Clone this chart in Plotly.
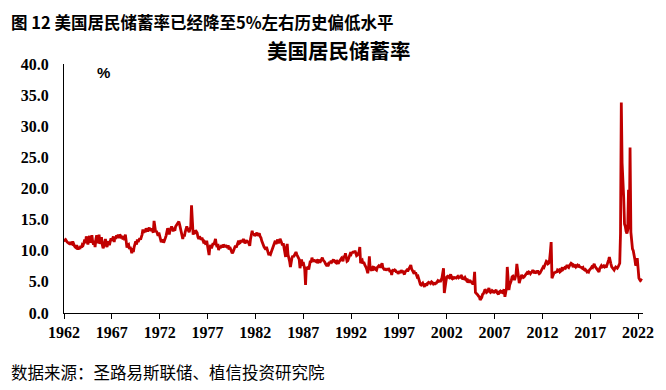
import pandas as pd
import plotly.graph_objects as go

# Monthly US personal saving rate (%)
rate_1962_1969 = [
    11.9, 11.7, 11.8, 11.5, 11.4, 11.3, 11.2, 11.4, 11.0, 11.2, 11.1, 11.5,
    11.0, 10.8, 10.6, 10.5, 10.9, 10.4, 10.2, 10.6, 10.3, 10.8, 10.5, 11.0,
    10.9, 11.3, 11.8, 11.2, 12.3, 11.9, 11.0, 11.6, 12.4, 11.3, 12.0, 12.5,
    11.4, 11.0, 11.6, 10.6, 11.8, 12.5, 11.8, 11.2, 12.6, 11.1, 11.7, 12.2,
    11.0, 10.4, 10.7, 11.3, 11.9, 11.0, 10.6, 11.2, 11.5, 10.9, 11.4, 12.0,
    11.6, 11.9, 12.3, 11.4, 12.2, 11.9, 12.5, 12.1, 12.6, 12.0, 12.6, 12.4,
    12.0, 12.4, 11.8, 12.3, 11.7, 12.6, 10.8, 10.5, 10.9, 11.0, 10.3, 10.6,
    10.2, 9.6, 10.4, 9.8, 10.6, 11.2, 11.5, 11.0, 11.8, 11.4, 11.9, 12.0,
]
rate_1970s = [
    11.8, 12.1, 12.6, 13.4, 12.9, 13.2, 13.0, 13.6, 13.3, 13.1, 13.5, 13.7,
    13.4, 13.2, 13.6, 13.3, 12.9, 14.8, 13.4, 13.0, 13.2, 12.6, 12.4, 12.9,
    12.2, 11.9, 11.4, 11.6, 11.8, 11.3, 11.9, 12.0, 12.4, 12.8, 13.6, 13.3,
    12.6, 13.3, 13.5, 13.9, 13.6, 13.1, 13.7, 13.2, 13.9, 14.1, 14.3, 14.5,
    14.7, 14.2, 13.5, 12.8, 12.2, 11.9, 12.6, 12.3, 13.0, 13.6, 13.9, 13.5,
    13.2, 13.0, 13.5, 13.8, 17.3, 14.0, 12.6, 13.1, 12.7, 13.3, 13.0, 12.9,
    12.2, 11.9, 12.3, 12.1, 11.8, 12.1, 11.6, 11.4, 11.5, 11.2, 11.0, 11.6,
    10.8, 10.1, 9.3, 10.6, 10.9, 10.4, 10.8, 11.2, 11.0, 11.4, 11.9, 11.0,
    10.6, 11.1, 10.1, 10.8, 10.4, 10.7, 10.9, 10.5, 11.0, 10.8, 10.6, 10.9,
    10.7, 10.5, 10.9, 10.2, 10.6, 10.3, 10.0, 9.6, 9.8, 10.1, 10.6, 10.8,
]
rate_1980s = [
    10.5, 10.9, 11.3, 11.6, 11.2, 11.3, 11.7, 11.4, 11.6, 11.9, 11.5, 11.2,
    11.4, 11.7, 11.3, 11.6, 11.1, 10.8, 11.9, 12.4, 13.2, 12.6, 12.8, 12.4,
    12.5, 12.7, 12.9, 12.4, 12.6, 12.8, 12.3, 12.1, 11.6, 11.2, 10.9, 10.6,
    10.4, 10.2, 10.6, 10.0, 9.6, 9.3, 9.5, 9.4, 9.8, 10.2, 10.6, 10.9,
    11.3, 11.6, 11.1, 11.4, 11.8, 11.2, 11.5, 11.9, 11.6, 11.3, 10.9, 11.2,
    10.2, 9.6, 9.0, 10.4, 11.1, 9.4, 9.0, 8.3, 7.4, 8.4, 8.9, 9.2,
    9.0, 9.3, 9.6, 9.8, 9.4, 9.1, 8.8, 8.6, 7.2, 8.4, 8.6, 7.6,
    8.2, 7.6, 7.0, 4.5, 7.4, 7.2, 7.3, 7.0, 7.6, 8.4, 8.1, 8.9,
    8.4, 8.6, 8.2, 8.5, 8.3, 8.4, 8.0, 8.2, 8.6, 8.1, 8.4, 8.6,
    8.9, 8.5, 8.4, 8.2, 7.9, 7.7, 7.8, 7.5, 7.8, 8.2, 8.0, 8.4,
]
rate_1990s = [
    8.2, 8.4, 8.6, 8.3, 8.2, 8.1, 8.5, 8.0, 7.9, 8.2, 8.4, 8.5,
    8.8, 8.6, 8.3, 9.2, 8.9, 9.6, 8.6, 8.3, 8.4, 8.8, 9.1, 9.5,
    9.4, 9.8, 9.6, 9.9, 9.7, 10.0, 9.6, 9.2, 9.3, 9.5, 9.8, 10.6,
    8.0, 8.4, 8.5, 7.9, 8.2, 7.8, 7.6, 7.3, 6.9, 6.4, 7.2, 9.1,
    7.2, 7.0, 6.8, 7.3, 7.5, 7.1, 7.2, 7.0, 6.9, 7.3, 7.4, 7.6,
    7.5, 7.3, 7.7, 8.0, 7.3, 7.0, 6.9, 7.2, 6.8, 7.1, 6.9, 7.2,
    7.0, 6.6, 6.9, 6.1, 6.8, 7.0, 6.7, 6.9, 6.8, 6.5, 6.7, 6.3,
    6.5, 6.7, 6.4, 6.9, 6.6, 6.8, 6.4, 6.2, 6.6, 6.7, 6.9, 6.7,
    7.0, 7.3, 7.5, 7.7, 7.1, 6.9, 6.6, 6.8, 6.3, 6.5, 6.1, 5.8,
    5.9, 5.4, 5.0, 4.6, 4.5, 4.6, 4.8, 4.5, 4.2, 4.7, 4.6, 4.4,
]
rate_2000s = [
    4.8, 4.9, 4.7, 5.0, 4.8, 5.0, 4.9, 4.7, 4.9, 4.6, 4.8, 4.8,
    5.0, 5.2, 5.1, 5.3, 5.0, 5.2, 5.6, 6.4, 7.2, 3.2, 4.5, 5.0,
    5.8, 5.9, 5.8, 5.7, 6.0, 6.2, 5.6, 5.5, 5.7, 5.6, 5.7, 5.6,
    5.6, 5.8, 5.9, 5.7, 5.9, 5.6, 6.1, 5.9, 5.4, 5.6, 5.5, 5.7,
    5.4, 5.2, 5.3, 4.9, 5.1, 5.3, 5.0, 5.0, 4.8, 4.6, 5.0, 6.6,
    3.3, 3.2, 3.0, 2.9, 2.7, 2.6, 2.1, 2.3, 2.5, 3.0, 3.1, 3.4,
    3.8, 3.6, 3.3, 3.4, 3.6, 4.0, 3.5, 3.3, 3.4, 3.6, 3.5, 3.2,
    3.4, 3.6, 3.7, 3.3, 3.1, 3.0, 3.4, 3.5, 3.2, 3.4, 3.3, 3.6,
    3.8, 2.6, 3.3, 4.0, 7.4, 5.8, 3.7, 4.5, 4.8, 5.2, 5.8, 5.9,
    5.6, 5.3, 5.7, 6.3, 7.9, 6.5, 5.9, 4.8, 5.3, 5.8, 6.1, 5.9,
]
rate_2010s = [
    5.7, 5.8, 6.0, 6.2, 6.4, 6.5, 6.4, 6.6, 6.5, 6.3, 6.5, 6.6,
    6.9, 6.7, 6.4, 6.6, 6.5, 6.6, 6.8, 6.5, 6.3, 6.4, 6.7, 7.0,
    7.2, 7.4, 7.3, 7.7, 8.0, 8.3, 8.2, 7.9, 8.0, 8.5, 9.8, 11.4,
    5.6, 6.0, 6.3, 6.6, 6.4, 6.7, 6.5, 6.9, 6.8, 6.9, 6.6, 6.7,
    7.1, 7.3, 7.0, 7.2, 7.3, 7.2, 7.5, 7.7, 7.4, 7.3, 7.6, 7.8,
    8.0, 7.9, 7.6, 7.7, 7.5, 7.6, 7.4, 7.6, 7.7, 7.5, 7.6, 7.4,
    7.4, 7.3, 7.2, 7.3, 7.0, 6.9, 7.0, 6.8, 6.6, 6.7, 6.6, 6.9,
    7.0, 7.2, 7.4, 7.3, 7.6, 7.9, 7.5, 7.3, 7.2, 7.0, 6.8, 6.6,
    7.2, 7.5, 7.6, 7.4, 7.5, 7.6, 7.4, 7.5, 7.3, 7.6, 7.9, 8.5,
    9.0, 8.6, 7.9, 7.4, 7.2, 7.0, 6.9, 7.2, 7.4, 7.3, 7.2, 7.4,
]
rate_2020s = [
    7.6, 8.0, 12.7, 33.8, 24.1, 19.0, 18.6, 14.3, 13.9, 13.1, 12.8, 13.3,
    19.8, 13.4, 26.6, 13.0, 11.0, 10.3, 10.0, 9.4, 8.6, 7.6, 7.9, 8.8,
    6.0, 5.6, 5.4, 5.2, 5.3, 5.2,
]

saving_rate = (rate_1962_1969 + rate_1970s + rate_1980s + rate_1990s
               + rate_2000s + rate_2010s + rate_2020s)
months = pd.date_range("1962-01-01", periods=len(saving_rate), freq="MS")

tick_years = [str(y) for y in range(1962, 2023, 5)]
tick_dates = [f"{y}-01-01" for y in tick_years]
y_ticks = [0, 5, 10, 15, 20, 25, 30, 35, 40]

header_text = "图 12 美国居民储蓄率已经降至5%左右历史偏低水平"
chart_title = "美国居民储蓄率"
source_text = "数据来源：圣路易斯联储、植信投资研究院"
unit_text = "%"

fig = go.Figure()
fig.add_trace(go.Scatter(
    x=months, y=saving_rate, mode="lines",
    line=dict(color="#C00000", width=2.8),
    hoverinfo="x+y", showlegend=False,
))

serif = "Liberation Serif"
cjk = "Noto Sans CJK SC"

fig.update_layout(
    width=658, height=382,
    margin=dict(l=56, r=17, t=56, b=77),
    paper_bgcolor="white", plot_bgcolor="white",
    xaxis=dict(
        type="date",
        range=["1962-01-01", "2022-07-08"],
        tickmode="array", tickvals=tick_dates, ticktext=tick_years,
        showgrid=False, zeroline=False,
        showline=True, linecolor="black", linewidth=1.2,
        ticks="outside", ticklen=5, tickcolor="black", tickwidth=1.2,
        tickfont=dict(family=serif, size=16, color="black", weight="bold"),
    ),
    yaxis=dict(
        range=[0, 40],
        tickmode="array", tickvals=y_ticks,
        tickformat=".1f",
        showgrid=False, zeroline=False,
        showline=True, linecolor="black", linewidth=1.2,
        ticks="", ticklabelstandoff=11,
        tickfont=dict(family=serif, size=16, color="black", weight="bold"),
    ),
    annotations=[
        dict(text=header_text, xref="paper", yref="paper",
             x=-0.0957, y=1.2249, xanchor="left", yanchor="top",
             showarrow=False,
             font=dict(family=cjk, size=16.5, color="black", weight="bold")),
        dict(text=chart_title, xref="paper", yref="paper",
             x=0.475, y=1.056, xanchor="center", yanchor="middle",
             showarrow=False,
             font=dict(family=cjk, size=20.5, color="black", weight="bold")),
        dict(text=unit_text, xref="paper", yref="paper",
             x=0.069, y=0.964, xanchor="center", yanchor="middle",
             showarrow=False,
             font=dict(family="Liberation Sans", size=15, color="black", weight="bold")),
        dict(text=source_text, xref="paper", yref="paper",
             x=-0.0957, y=-0.237, xanchor="left", yanchor="middle",
             showarrow=False,
             font=dict(family=cjk, size=16.5, color="black")),
    ],
)

fig.write_html("out.html")
